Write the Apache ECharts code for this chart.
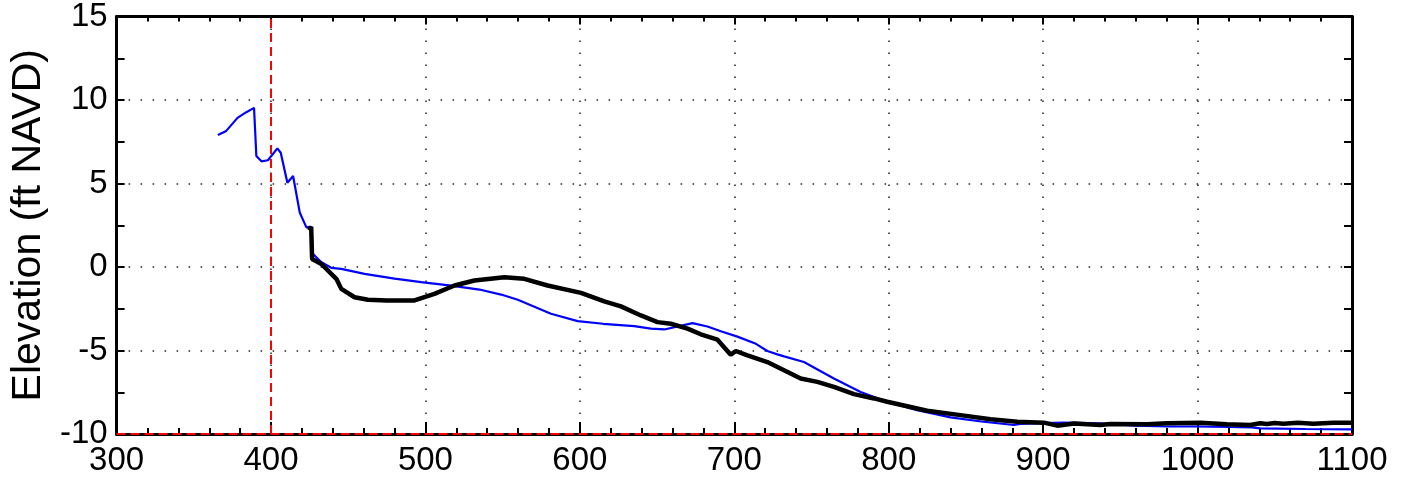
<!DOCTYPE html>
<html>
<head>
<meta charset="utf-8">
<script src="https://cdn.jsdelivr.net/npm/echarts@6/dist/echarts.min.js"></script>
<style>
html,body{margin:0;padding:0;background:#fff;}
#chart{width:1405px;height:484px;}
</style>
</head>
<body>
<div id="chart"></div>
<script>
// Survey profile (blue, thin)
const blueX = [365.6,371,378.3,384,389,390.5,393.8,398,400.2,404.1,406.3,410.6,414.3,418.6,422.9,426.1,427.2,432.6,439,445.5,460.6,480,497.2,516.6,535,549,559.8,581.3,598.6,615,635.2,646,654.7,673,682.6,691.3,702,714,721.4,727.9,732.2,745.1,764.5,781.8,799,818.4,840,860,881,885.3,900,913.3,937,960,980,1000,1020,1035,1040.5,1070,1100];
const blueY = [7.9,8.15,8.93,9.27,9.53,6.65,6.33,6.39,6.65,7.1,6.84,5.05,5.45,3.26,2.37,2.41,0.78,0.28,-0.05,-0.11,-0.41,-0.7,-0.91,-1.11,-1.35,-1.65,-1.96,-2.8,-3.24,-3.4,-3.54,-3.69,-3.74,-3.36,-3.56,-3.85,-4.17,-4.6,-5.03,-5.23,-5.35,-5.69,-6.68,-7.48,-8.07,-8.57,-9.0,-9.25,-9.46,-9.4,-9.35,-9.32,-9.36,-9.5,-9.55,-9.55,-9.58,-9.6,-9.66,-9.7,-9.72];
// Model profile (black, thick)
const blackX = [424.5,426,426.6,432.6,442.3,445.5,454.1,462.8,475,492.9,505.8,518.8,531.7,551.1,564,579.1,600.7,615.8,626.6,639.5,650.3,658.9,669.7,678.3,689.1,697.7,701,708.5,721.4,732.2,743,753.8,764.5,777.5,790.5,799,824.9,846.5,865.9,883.2,900.5,909.1,920,937,943.5,967.3,980.2,1001.9,1019,1034,1040.5,1045,1050,1055.5,1065,1075,1087.9,1100];
const blackY = [2.2,2.4,0.48,0.18,-0.71,-1.31,-1.81,-1.96,-2.0,-2.0,-1.61,-1.11,-0.81,-0.61,-0.71,-1.11,-1.55,-2.06,-2.36,-2.9,-3.3,-3.4,-3.69,-4.03,-4.35,-5.25,-5.03,-5.29,-5.69,-6.18,-6.68,-6.88,-7.18,-7.61,-7.87,-8.07,-8.61,-8.87,-9.12,-9.27,-9.32,-9.5,-9.37,-9.46,-9.4,-9.42,-9.36,-9.32,-9.42,-9.46,-9.36,-9.4,-9.34,-9.38,-9.33,-9.38,-9.32,-9.32];
const xTicks = [300,400,500,600,700,800,900,1000,1100];
const yTicks = [-10,-5,0,5,10,15];
const refX = 400;
const refY = -10;
const yTitle = 'Elevation (ft NAVD)';

const toPairs = (xs, ys) => xs.map((x, i) => [x, ys[i]]);
const tickFont = {fontFamily: "'Liberation Sans Narrow','Liberation Sans',Arial,sans-serif", fontSize: 33, color: '#000', formatter: v => String(v)};
const dotted = {color: '#222', width: 1.5, type: [1.5, 10.5]};

const chart = echarts.init(document.getElementById('chart'), null, {renderer: 'canvas'});
chart.setOption({
  animation: false,
  backgroundColor: '#fff',
  grid: {left: 115, right: 53, top: 15, bottom: 50, containLabel: false},
  xAxis: [{
    type: 'value', min: xTicks[0], max: xTicks[xTicks.length-1], interval: 100,
    position: 'bottom', z: 0,
    axisLine: {show: true, onZero: false, lineStyle: {color: '#000', width: 3}},
    axisTick: {show: true, inside: true, length: 12, lineStyle: {color: '#000', width: 2}},
    minorTick: {show: true, splitNumber: 5, length: 6, lineStyle: {color: '#000', width: 2}},
    axisLabel: Object.assign({margin: 10}, tickFont),
    splitLine: {show: true, lineStyle: dotted}
  }, {
    type: 'value', min: xTicks[0], max: xTicks[xTicks.length-1], interval: 100,
    position: 'top',
    axisLine: {show: true, onZero: false, lineStyle: {color: '#000', width: 3}},
    axisTick: {show: true, inside: true, length: 8, lineStyle: {color: '#000', width: 2}},
    minorTick: {show: true, splitNumber: 5, length: 5, lineStyle: {color: '#000', width: 2}},
    axisLabel: {show: false},
    splitLine: {show: false}
  }],
  yAxis: [{
    type: 'value', min: yTicks[0], max: yTicks[yTicks.length-1], interval: 5,
    position: 'left',
    name: yTitle, nameLocation: 'middle', nameGap: 66,
    nameTextStyle: {fontFamily: "'Liberation Sans',Arial,sans-serif", fontSize: 41, color: '#000'},
    axisLine: {show: true, onZero: false, lineStyle: {color: '#000', width: 3}},
    axisTick: {show: true, inside: true, length: 8, lineStyle: {color: '#000', width: 2}},
    minorTick: {show: true, splitNumber: 2, length: 8, lineStyle: {color: '#000', width: 2}},
    axisLabel: Object.assign({margin: 9}, tickFont),
    splitLine: {show: true, lineStyle: dotted}
  }, {
    type: 'value', min: yTicks[0], max: yTicks[yTicks.length-1], interval: 5,
    position: 'right',
    axisLine: {show: true, onZero: false, lineStyle: {color: '#000', width: 3}},
    axisTick: {show: true, inside: true, length: 8, lineStyle: {color: '#000', width: 2}},
    minorTick: {show: true, splitNumber: 2, length: 8, lineStyle: {color: '#000', width: 2}},
    axisLabel: {show: false},
    splitLine: {show: false}
  }],
  series: [{
    type: 'line', data: toPairs(blueX, blueY), showSymbol: false, symbol: 'none',
    lineStyle: {color: '#0000ff', width: 2.2}, z: 3, silent: true
  }, {
    type: 'line', data: toPairs(blackX, blackY), showSymbol: false, symbol: 'none',
    lineStyle: {color: '#000', width: 4.5}, z: 4, silent: true
  }, {
    type: 'line', data: [], z: 20, silent: true,
    markLine: {
      silent: true, symbol: 'none', label: {show: false}, z: 20,
      lineStyle: {color: '#ff0000', width: 2, type: [9, 5]},
      data: [{xAxis: refX}, {yAxis: refY}]
    }
  }]
});
</script>
</body>
</html>
